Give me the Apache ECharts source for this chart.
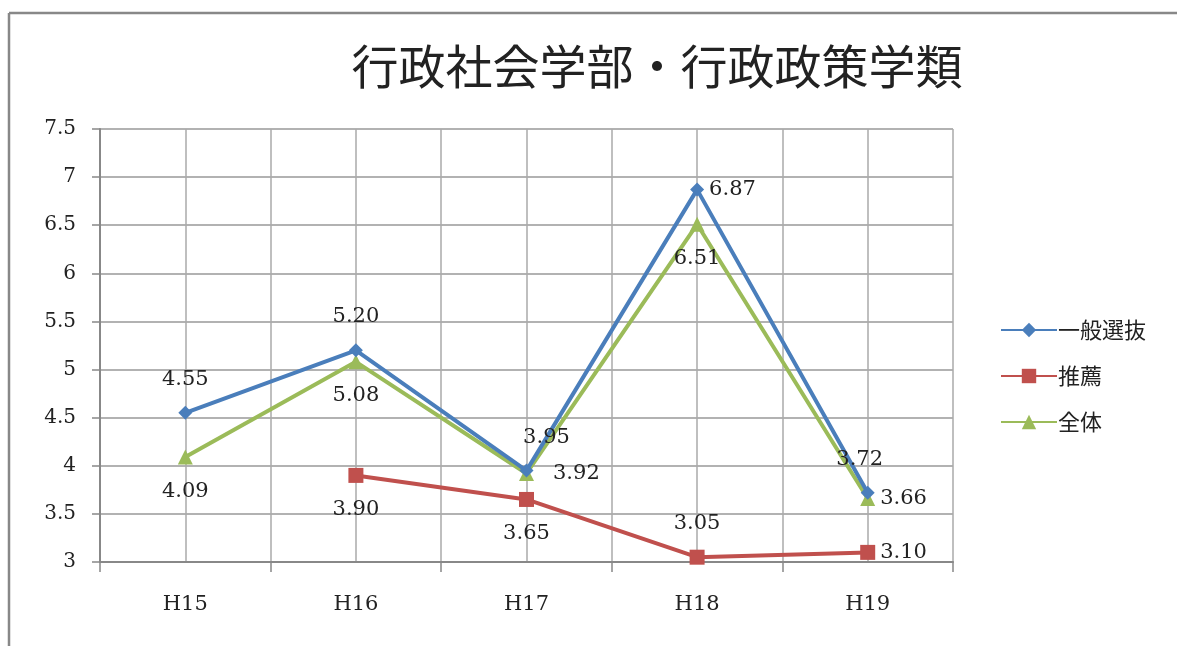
<!DOCTYPE html>
<html>
<head>
<meta charset="utf-8">
<script src="https://cdn.jsdelivr.net/npm/echarts@6/dist/echarts.min.js"></script>
<style>
  html, body { margin: 0; padding: 0; background: #fff; }
  #chart { width: 1177px; height: 646px; }
</style>
</head>
<body>
<div id="chart"></div>
<script>
// Categories (fiscal years) and the three series
const years = ['H15', 'H16', 'H17', 'H18', 'H19'];
const generalValues = [4.55, 5.20, 3.95, 6.87, 3.72];   // 一般選抜
const recommendValues = [null, 3.90, 3.65, 3.05, 3.10]; // 推薦
const totalValues = [4.09, 5.08, 3.92, 6.51, 3.66];     // 全体
const yTicks = [3, 3.5, 4, 4.5, 5, 5.5, 6, 6.5, 7, 7.5];

// Where each value label sits relative to its point
const generalLabelPos = ['top', 'top', 'top', 'right', 'top'];
const recommendLabelPos = ['bottom', 'bottom', 'bottom', 'top', 'right'];
const totalLabelPos = ['bottom', 'bottom', 'right', 'bottom', 'right'];
// small horizontal nudges for crowded labels
const generalLabelShift = [0, 0, 20, 0, -8];
const totalLabelShift = [0, 0, 14, 0, 0];

const serif = '"DejaVu Serif", "Liberation Serif", serif';
const gothic = '"Noto Sans CJK JP", "Noto Sans", sans-serif';

function withLabels(values, positions, shifts) {
  return values.map((v, i) => v == null ? null : {
    value: v,
    label: {
      position: positions[i],
      distance: positions[i] === 'right' ? 5 : 16,
      offset: [shifts ? shifts[i] : 0, 0]
    }
  });
}

const chart = echarts.init(document.getElementById('chart'));

chart.setOption({
  backgroundColor: '#ffffff',
  animation: false,
  title: {
    text: '行政社会学部・行政政策学類',
    left: 652,
    textAlign: 'center',
    top: 38,
    textStyle: { fontFamily: gothic, fontSize: 47, fontWeight: 'normal', color: '#222' }
  },
  legend: {
    orient: 'vertical',
    left: 995,
    top: 314,
    itemWidth: 56,
    itemHeight: 18,
    itemGap: 24,
    textStyle: { fontFamily: gothic, fontSize: 22, color: '#222', padding: [0, 0, 0, -4] },
    data: ['一般選抜', '推薦', '全体']
  },
  grid: { left: 100, right: 224, top: 129, bottom: 84, containLabel: false },
  xAxis: [
    {
      type: 'category',
      data: years,
      boundaryGap: true,
      axisLine: { show: true, lineStyle: { color: '#888', width: 2 } },
      axisTick: { show: true, length: 10, lineStyle: { color: '#888', width: 1.5 } },
      axisLabel: { fontFamily: serif, fontSize: 21, color: '#222', margin: 32 },
      splitLine: { show: false }
    },
    {
      // half-category grid: lines at every category centre and boundary
      type: 'value',
      min: 0, max: 10, interval: 1,
      position: 'bottom',
      axisLine: { show: false },
      axisTick: { show: false },
      axisLabel: { show: false },
      splitLine: { show: true, lineStyle: { color: '#aaa', width: 1.5 } }
    }
  ],
  yAxis: {
    type: 'value',
    min: 3, max: 7.5, interval: 0.5,
    axisLine: { show: true, lineStyle: { color: '#888', width: 2 } },
    axisTick: { show: true, length: 8, lineStyle: { color: '#888', width: 1.5 } },
    axisLabel: {
      fontFamily: serif, fontSize: 20, color: '#222', margin: 24,
      formatter: v => yTicks.includes(v) ? String(v) : ''
    },
    splitLine: { show: true, lineStyle: { color: '#999', width: 1.5 } }
  },
  series: [
    {
      name: '一般選抜',
      type: 'line',
      xAxisIndex: 0,
      data: withLabels(generalValues, generalLabelPos, generalLabelShift),
      symbol: 'diamond',
      symbolSize: 14,
      color: '#4A7EBB',
      lineStyle: { width: 4, color: '#4A7EBB' },
      label: {
        show: true, fontFamily: serif, fontSize: 21, color: '#222',
        formatter: p => p.value.toFixed(2)
      },
      z: 4
    },
    {
      name: '推薦',
      type: 'line',
      xAxisIndex: 0,
      data: withLabels(recommendValues, recommendLabelPos),
      symbol: 'rect',
      symbolSize: 15,
      color: '#C0504D',
      lineStyle: { width: 4, color: '#C0504D' },
      label: {
        show: true, fontFamily: serif, fontSize: 21, color: '#222',
        formatter: p => p.value.toFixed(2)
      },
      z: 3
    },
    {
      name: '全体',
      type: 'line',
      xAxisIndex: 0,
      data: withLabels(totalValues, totalLabelPos, totalLabelShift),
      symbol: 'triangle',
      symbolSize: 15,
      color: '#9BBB59',
      lineStyle: { width: 4, color: '#9BBB59' },
      label: {
        show: true, fontFamily: serif, fontSize: 21, color: '#222',
        formatter: p => p.value.toFixed(2)
      },
      z: 3
    }
  ],
  graphic: [
    // chart frame: top and left edges
    { type: 'line', shape: { x1: 9, y1: 13, x2: 1177, y2: 13 }, style: { stroke: '#888', lineWidth: 2.5 } },
    { type: 'line', shape: { x1: 9, y1: 13, x2: 9, y2: 646 }, style: { stroke: '#888', lineWidth: 2.5 } }
  ]
});
</script>
</body>
</html>
